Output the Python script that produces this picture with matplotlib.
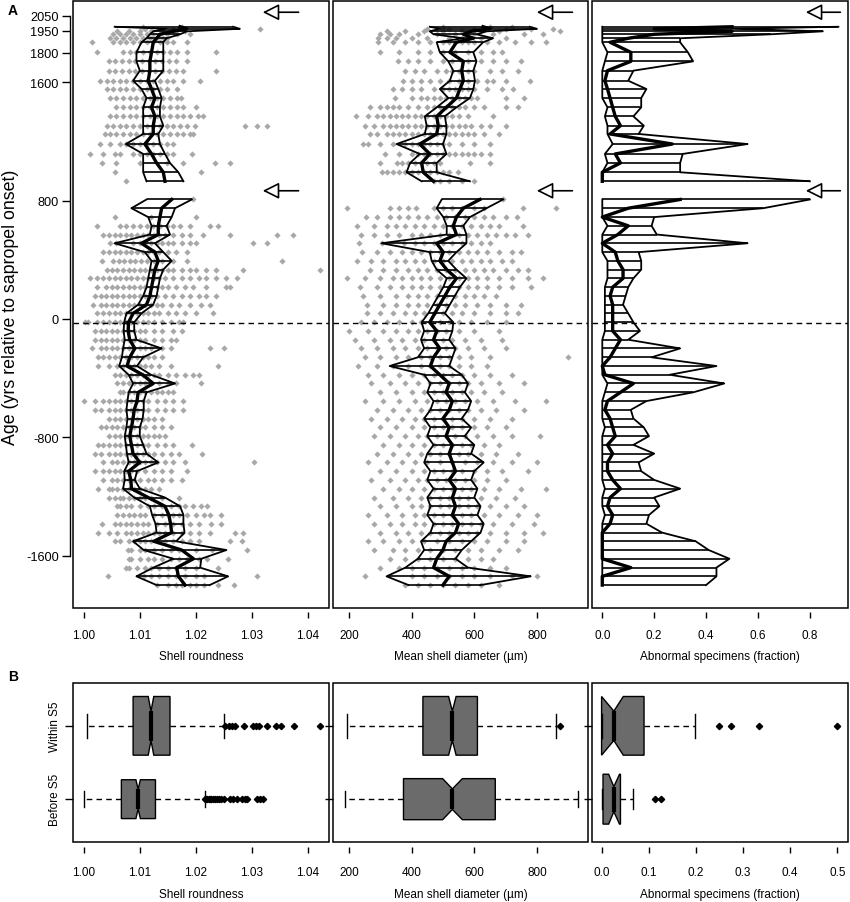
import numpy as np
import matplotlib.pyplot as plt
from matplotlib.patches import Rectangle

plt.rcParams['font.family'] = ['Liberation Sans', 'DejaVu Sans']
plt.rcParams['axes.unicode_minus'] = False

# sample ages (yrs relative to sapropel onset): section 1 below the gap, section 2 above it
age1 = [-1799, -1740, -1681, -1621, -1562, -1503, -1444, -1384, -1325, -1266,
        -1207, -1147, -1088, -1029, -970, -910, -851, -792, -733, -673,
        -614, -555, -496, -436, -377, -318, -259, -199, -140, -81,
        -22, 38, 97, 156, 215, 275, 334, 393, 452, 512,
        571, 630, 689, 749, 808]
age2 = [931, 992, 1055, 1116, 1183, 1251, 1307, 1370, 1431, 1494, 1555,
        1611, 1679, 1742, 1803, 1871, 1898, 1925, 1945, 1962, 1976]

onset_line = -30
arrow_ages = [2074, 867]

# shell roundness: lower band / median / upper band
rnd_lo1 = [1.0130, 1.0094, 1.0124, 1.0160, 1.0107, 1.0088, 1.0130, 1.0128, 1.0122, 1.0118,
           1.0090, 1.0070, 1.0073, 1.0072, 1.0080, 1.0077, 1.0075, 1.0073, 1.0076, 1.0078,
           1.0076, 1.0078, 1.0080, 1.0088, 1.0080, 1.0063, 1.0068, 1.0070, 1.0073, 1.0071,
           1.0072, 1.0076, 1.0097, 1.0106, 1.0112, 1.0115, 1.0118, 1.0121, 1.0109, 1.0055,
           1.0118, 1.0121, 1.0115, 1.0085, 1.0112]
rnd_md1 = [1.0181, 1.0169, 1.0166, 1.0196, 1.0175, 1.0125, 1.0157, 1.0155, 1.0152, 1.0145,
           1.0115, 1.0085, 1.0084, 1.0080, 1.0100, 1.0088, 1.0085, 1.0082, 1.0085, 1.0088,
           1.0090, 1.0095, 1.0097, 1.0124, 1.0105, 1.0077, 1.0082, 1.0091, 1.0082, 1.0079,
           1.0080, 1.0088, 1.0112, 1.0118, 1.0121, 1.0124, 1.0127, 1.0133, 1.0127, 1.0103,
           1.0133, 1.0133, 1.0136, 1.0139, 1.0157]
rnd_hi1 = [1.0225, 1.0258, 1.0208, 1.0210, 1.0255, 1.0165, 1.0180, 1.0178, 1.0178, 1.0172,
           1.0145, 1.0100, 1.0091, 1.0095, 1.0133, 1.0112, 1.0106, 1.0100, 1.0100, 1.0105,
           1.0107, 1.0107, 1.0112, 1.0163, 1.0120, 1.0095, 1.0106, 1.0139, 1.0094, 1.0090,
           1.0090, 1.0103, 1.0124, 1.0130, 1.0133, 1.0136, 1.0142, 1.0157, 1.0142, 1.0127,
           1.0154, 1.0148, 1.0157, 1.0163, 1.0193]
rnd_lo2 = [1.0112, 1.0106, 1.0106, 1.0106, 1.0075, 1.0106, 1.0106, 1.0106, 1.0106, 1.0112, 1.0103,
           1.0088, 1.0100, 1.0094, 1.0094, 1.0103, 1.0112, 1.0118, 1.0124, 1.0148, 1.0055]
rnd_md2 = [1.0145, 1.0142, 1.0130, 1.0121, 1.0109, 1.0124, 1.0124, 1.0127, 1.0121, 1.0127, 1.0121,
           1.0115, 1.0118, 1.0118, 1.0121, 1.0124, 1.0130, 1.0136, 1.0160, 1.0184, 1.0172]
rnd_hi2 = [1.0178, 1.0169, 1.0154, 1.0145, 1.0136, 1.0133, 1.0142, 1.0136, 1.0136, 1.0139, 1.0133,
           1.0127, 1.0142, 1.0142, 1.0142, 1.0142, 1.0148, 1.0172, 1.0184, 1.0279, 1.0267]

# individual shells, roundness minus 1 in units of 1e-4
rnd_pts1 = [
    [130, 150, 165, 175, 190, 200, 215, 240, 268],
    [43, 108, 120, 135, 150, 165, 180, 200, 215, 310],
    [75, 80, 95, 110, 120, 135, 150, 165, 180, 200, 240],
    [80, 85, 100, 115, 125, 140, 155, 170, 185, 205, 220, 258],
    [78, 85, 100, 110, 125, 140, 155, 170, 200, 230, 292],
    [55, 65, 80, 90, 100, 110, 120, 130, 145, 160, 175, 190, 205, 262, 282],
    [25, 45, 60, 75, 85, 95, 105, 115, 125, 135, 145, 160, 175, 190, 205, 225, 270, 285],
    [32, 55, 65, 75, 85, 95, 105, 115, 130, 145, 160, 175, 190, 205, 227, 245],
    [60, 70, 80, 90, 100, 110, 125, 140, 150, 160, 170, 185, 200, 215, 225, 245],
    [60, 65, 75, 85, 100, 115, 125, 140, 155, 170, 180, 195, 210, 220],
    [45, 55, 65, 70, 80, 90, 100, 110, 120, 140, 170],
    [25, 45, 50, 60, 70, 80, 90, 100, 110, 120, 135],
    [35, 50, 60, 70, 80, 90, 100, 115, 125, 140, 155, 175],
    [20, 35, 45, 55, 65, 75, 85, 95, 110, 125, 140, 155, 185],
    [35, 50, 60, 70, 80, 90, 100, 110, 120, 130, 145, 160, 180, 305],
    [20, 30, 45, 55, 65, 75, 85, 95, 105, 115, 125, 140, 155, 170, 212],
    [25, 35, 45, 55, 65, 75, 85, 95, 105, 115, 130, 145, 160, 193],
    [45, 55, 65, 75, 85, 95, 105, 115, 125, 135, 145],
    [30, 40, 50, 60, 70, 80, 90, 100, 110, 125, 140, 155],
    [45, 55, 65, 75, 85, 95, 105, 115, 125, 140],
    [20, 30, 45, 55, 65, 75, 85, 95, 105, 115, 130, 145, 160, 178],
    [0, 20, 35, 45, 55, 65, 75, 85, 95, 105, 115, 130, 145, 160, 178],
    [65, 70, 80, 90, 100, 110, 120, 130, 140, 150, 160],
    [60, 70, 80, 90, 100, 110, 120, 135, 150, 165, 210],
    [55, 65, 75, 85, 95, 105, 115, 125, 135, 150, 165, 180, 195, 206],
    [25, 45, 60, 70, 80, 90, 100, 110, 120, 135, 155, 240],
    [25, 35, 45, 55, 65, 75, 85, 95, 105, 115, 125, 140],
    [15, 30, 40, 50, 60, 70, 80, 90, 100, 110, 120, 140, 155, 225, 250],
    [20, 30, 40, 50, 60, 70, 80, 90, 100, 110, 125, 140, 155, 165],
    [20, 30, 40, 50, 60, 70, 80, 90, 100, 110, 125, 140, 160, 175],
    [2, 8, 23, 35, 45, 55, 65, 75, 85, 95, 105, 115, 125, 140, 155, 170, 178],
    [23, 35, 45, 55, 65, 75, 85, 95, 105, 115, 125, 135, 150, 165, 180, 200, 231],
    [17, 30, 40, 50, 60, 70, 80, 90, 100, 110, 120, 130, 140, 155, 170, 190, 210, 225],
    [20, 30, 40, 50, 60, 70, 80, 90, 100, 110, 120, 130, 145, 160, 175, 190, 205, 219, 237],
    [23, 40, 50, 60, 70, 80, 90, 100, 110, 120, 130, 140, 150, 165, 180, 195, 219, 255, 261],
    [11, 23, 35, 45, 55, 65, 75, 85, 95, 105, 115, 125, 135, 145, 160, 175, 190, 205, 219, 237, 255, 273],
    [41, 50, 60, 70, 80, 90, 100, 110, 120, 130, 140, 150, 160, 175, 190, 201, 219, 237, 285, 422],
    [32, 52, 62, 72, 82, 92, 102, 112, 125, 140, 160, 184, 354],
    [35, 45, 55, 65, 75, 85, 95, 105, 115, 125, 135, 150, 165, 184],
    [47, 58, 88, 100, 110, 120, 130, 140, 150, 160, 175, 190, 201, 303, 327],
    [35, 45, 55, 65, 75, 85, 95, 105, 115, 125, 135, 145, 160, 175, 190, 213, 261, 345, 374],
    [23, 64, 76, 88, 100, 112, 124, 136, 148, 160, 172, 190, 225, 240],
    [55, 120, 201],
    [],
    [196],
]
rnd_pts2 = [
    [76],
    [55, 210],
    [32, 58, 100, 148, 178, 234, 261],
    [11, 35, 55, 64, 88, 100, 112, 124, 136, 148, 160, 193],
    [29, 47, 64, 76, 88, 100, 112, 124, 136, 148, 160],
    [38, 47, 58, 70, 82, 94, 106, 118, 130, 142, 154, 166, 178, 189, 195],
    [41, 52, 64, 76, 88, 100, 112, 124, 136, 148, 160, 172, 184, 198, 288, 309, 327],
    [47, 58, 70, 82, 94, 106, 118, 130, 142, 154, 166, 178, 190, 204, 213],
    [58, 70, 82, 94, 106, 118, 130, 142, 154, 166, 178, 201],
    [47, 58, 70, 82, 94, 106, 118, 130, 142, 154, 166, 174],
    [41, 52, 64, 76, 88, 100, 112, 124, 136, 148, 166],
    [29, 41, 52, 64, 76, 88, 100, 112, 124, 136, 148, 160, 178, 207],
    [44, 56, 68, 80, 92, 104, 116, 128, 140, 152, 164, 178, 237],
    [44, 56, 68, 80, 92, 104, 116, 128, 140, 152, 164, 184],
    [23, 70, 82, 94, 106, 118, 130, 142, 154, 166, 184, 237],
    [14, 52, 64, 76, 88, 100, 112, 124, 136, 148, 160, 184],
    [47, 58, 70, 82, 94, 106, 118, 130, 142, 148],
    [52, 64, 76, 88, 100, 112, 124, 136, 148, 166, 190],
    [60, 80, 100, 120, 140, 160, 180],
    [110, 160, 315],
    [105, 175],
]

# mean shell diameter (um): lower band / median / upper band
dia_lo1 = [390, 320, 380, 420, 440, 430, 460, 470, 450, 460,
           450, 470, 450, 460, 440, 450, 470, 450, 460, 440,
           460, 470, 450, 460, 440, 330, 420, 440, 430, 440,
           432, 453, 469, 485, 501, 512, 480, 464, 458, 304,
           512, 512, 501, 480, 496]
dia_md1 = [500, 520, 470, 480, 500, 510, 540, 550, 530, 540,
           530, 540, 520, 540, 530, 520, 530, 510, 520, 500,
           520, 530, 510, 520, 490, 460, 470, 490, 470, 480,
           458, 474, 490, 506, 522, 543, 512, 490, 501, 480,
           543, 533, 543, 565, 618]
dia_hi1 = [620, 780, 580, 540, 560, 590, 620, 630, 610, 620,
           600, 610, 590, 600, 630, 590, 600, 570, 590, 560,
           580, 590, 570, 580, 560, 520, 530, 540, 520, 530,
           533, 506, 522, 538, 554, 575, 543, 517, 543, 575,
           575, 565, 586, 639, 692]
dia_lo2 = [432, 384, 395, 426, 352, 442, 448, 442, 480, 517, 490,
           522, 533, 517, 490, 480, 565, 470, 458, 490, 458]
dia_md2 = [470, 437, 432, 458, 426, 480, 485, 480, 511, 543, 554,
           565, 560, 565, 522, 543, 597, 565, 590, 650, 628]
dia_hi2 = [586, 480, 480, 511, 500, 511, 511, 506, 543, 586, 597,
           602, 597, 607, 597, 628, 660, 607, 640, 800, 777]

# individual shells, diameter (um)
dia_pts1 = [
    [380, 420, 460, 500, 540, 580, 620, 680],
    [250, 400, 440, 480, 520, 560, 600, 650, 720, 800],
    [300, 360, 400, 440, 480, 520, 560, 600, 650, 700],
    [330, 380, 420, 460, 500, 540, 580, 620, 660],
    [280, 340, 380, 420, 460, 500, 540, 580, 620, 680, 740],
    [260, 310, 360, 400, 440, 480, 520, 560, 600, 640, 700, 760],
    [300, 350, 390, 430, 460, 490, 520, 550, 580, 610, 650, 700, 760, 820],
    [280, 330, 370, 410, 440, 470, 500, 530, 560, 590, 620, 660, 720, 790],
    [260, 320, 370, 410, 440, 470, 500, 530, 560, 590, 630, 680, 740, 800],
    [300, 350, 400, 430, 460, 490, 520, 550, 580, 610, 650, 700, 760],
    [280, 340, 390, 430, 460, 490, 520, 550, 580, 620, 670, 730],
    [310, 360, 400, 440, 470, 500, 530, 560, 590, 630, 680, 750, 830],
    [270, 330, 380, 420, 450, 480, 510, 540, 570, 600, 640, 700],
    [300, 350, 400, 440, 470, 500, 530, 560, 600, 640, 690, 770],
    [260, 320, 370, 410, 450, 490, 530, 570, 610, 660, 720, 800],
    [290, 340, 390, 430, 460, 490, 520, 550, 580, 620, 670, 740],
    [310, 360, 400, 440, 470, 500, 530, 560, 590, 630, 680],
    [280, 330, 380, 420, 450, 480, 510, 540, 570, 610, 660, 720, 810],
    [300, 350, 400, 440, 470, 500, 530, 560, 600, 640, 700],
    [270, 320, 370, 410, 440, 470, 500, 530, 560, 600, 650, 720],
    [290, 340, 390, 430, 460, 490, 520, 550, 580, 620, 670, 760],
    [250, 310, 360, 410, 450, 480, 510, 540, 570, 610, 660, 730, 830],
    [300, 350, 400, 440, 470, 500, 530, 560, 590, 630, 690],
    [270, 330, 380, 420, 460, 490, 520, 550, 580, 620, 680, 760],
    [260, 310, 360, 400, 440, 470, 500, 530, 560, 600, 650, 720],
    [230, 290, 340, 390, 430, 460, 490, 520, 550, 590, 640],
    [250, 300, 350, 390, 430, 460, 490, 520, 550, 590, 650, 900],
    [240, 290, 340, 380, 420, 450, 480, 510, 540, 580, 630, 700],
    [220, 280, 330, 370, 410, 440, 470, 500, 530, 570, 620, 690],
    [200, 260, 310, 350, 390, 420, 450, 480, 510, 550, 600, 680],
    [240, 280, 320, 360, 400, 430, 460, 490, 520, 550, 590, 640, 700],
    [257, 300, 340, 380, 410, 440, 470, 500, 530, 560, 600, 650, 700, 740],
    [257, 310, 350, 390, 420, 450, 480, 510, 540, 570, 610, 650, 700, 750],
    [246, 300, 350, 390, 420, 450, 480, 510, 540, 570, 600, 630, 670],
    [236, 290, 330, 370, 400, 430, 460, 490, 520, 550, 580, 610, 640, 680, 720, 780],
    [193, 250, 300, 340, 370, 400, 430, 460, 490, 520, 550, 580, 610, 640, 680, 720, 770, 820],
    [268, 310, 350, 390, 420, 450, 480, 510, 540, 570, 600, 630, 660, 700, 740, 770],
    [226, 270, 310, 350, 380, 410, 440, 470, 500, 530, 560, 590, 620, 650, 690, 720],
    [242, 290, 330, 370, 400, 430, 460, 490, 520, 550, 580, 610, 640, 680, 720, 750],
    [231, 306, 375, 410, 440, 470, 500, 530, 560, 590, 620, 651],
    [237, 280, 320, 360, 400, 430, 460, 490, 520, 550, 580, 610, 640, 670, 700, 730, 770],
    [226, 280, 320, 350, 380, 410, 440, 470, 500, 530, 560, 590, 620, 650, 680, 757],
    [253, 290, 330, 360, 390, 420, 450, 480, 510, 540, 570, 600, 630, 660, 700, 735],
    [193, 330, 360, 390, 415, 470, 500, 530, 560, 600, 630, 756, 862],
    [692],
]
dia_pts2 = [
    [470, 490, 520, 560, 600],
    [304, 320, 340, 360, 380, 400, 420, 440, 460, 480, 500, 520, 549],
    [299, 352, 370, 390, 410, 430, 450, 470, 490, 586, 650],
    [315, 360, 400, 420, 440, 460, 480, 500, 520, 540, 560, 580, 600, 620, 650],
    [246, 260, 300, 340, 380, 400, 420, 440, 460, 480, 500, 520, 560, 600, 650],
    [267, 290, 320, 340, 360, 380, 400, 420, 440, 460, 480, 500, 520, 540, 560, 580, 600, 630, 680],
    [251, 280, 310, 330, 350, 370, 390, 410, 430, 450, 470, 490, 510, 530, 550, 570, 590, 620, 650, 700],
    [224, 260, 290, 310, 330, 350, 370, 390, 410, 430, 450, 470, 490, 510, 530, 550, 580, 660],
    [267, 300, 320, 340, 360, 390, 420, 450, 470, 490, 510, 530, 550, 570, 600, 630, 700, 740],
    [347, 400, 430, 450, 470, 490, 510, 530, 550, 570, 590, 610, 700, 760],
    [342, 370, 400, 430, 470, 500, 520, 540, 560, 580, 600, 640, 690, 723],
    [373, 400, 430, 460, 490, 520, 550, 580, 610, 640, 660, 700, 777],
    [378, 410, 440, 480, 510, 530, 550, 580, 600, 650, 690, 740],
    [357, 390, 420, 460, 500, 530, 560, 580, 620, 660, 700, 750],
    [299, 360, 420, 460, 500, 540, 580, 620, 660, 690],
    [293, 340, 380, 420, 460, 500, 520, 540, 560, 580, 600, 640, 680, 730, 780, 830],
    [293, 320, 350, 400, 450, 520, 560, 620, 700],
    [300, 330, 360, 420, 480, 540, 600, 660, 760, 820],
    [320, 380, 440, 500, 560, 620, 680, 873],
    [450, 520, 600, 700, 780, 850],
    [500, 650, 720],
]

# abnormal specimens (fraction): lower band / observed / upper band
abn_lo1 = [0, 0, 0, 0, 0, 0, 0, 0, 0.01, 0,
           0, 0.01, 0, 0, 0, 0, 0, 0, 0.01, 0,
           0, 0, 0.01, 0.02, 0, 0, 0, 0, 0, 0.01,
           0.01, 0.01, 0.01, 0.01, 0.01, 0.02, 0.02, 0.02, 0, 0,
           0, 0.02, 0, 0, 0]
abn_md1 = [0, 0, 0.11, 0, 0, 0, 0, 0.03, 0.04, 0.02,
           0.03, 0.07, 0.04, 0.02, 0.02, 0.04, 0.02, 0.05, 0.04, 0.03,
           0.01, 0.02, 0.07, 0.12, 0.01, 0, 0.03, 0.05, 0.07, 0.04,
           0.04, 0.04, 0.04, 0.03, 0.04, 0.08, 0.08, 0.06, 0.05, 0,
           0.06, 0.10, 0, 0.10, 0.30]
abn_hi1 = [0.40, 0.44, 0.44, 0.49, 0.41, 0.36, 0.23, 0.17, 0.18, 0.22,
           0.20, 0.30, 0.20, 0.15, 0.14, 0.20, 0.12, 0.18, 0.16, 0.12,
           0.11, 0.17, 0.35, 0.47, 0.26, 0.44, 0.19, 0.30, 0.10, 0.145,
           0.12, 0.10, 0.08, 0.09, 0.10, 0.12, 0.15, 0.15, 0.14, 0.56,
           0.21, 0.19, 0.20, 0.62, 0.80]
abn_lo2 = [0, 0, 0.02, 0.01, 0.04, 0.02, 0.02, 0.01, 0.02, 0, 0,
           0, 0, 0.01, 0.02, 0, 0, 0, 0, 0, 0]
abn_md2 = [0, 0, 0.07, 0.05, 0.27, 0.03, 0.07, 0.05, 0.04, 0.03, 0.02,
           0.01, 0.02, 0.11, 0.11, 0.03, 0.10, 0.20, 0.50, 0.20, 0.50]
abn_hi2 = [0.80, 0.30, 0.30, 0.31, 0.56, 0.14, 0.16, 0.12, 0.15, 0.15, 0.17,
           0.10, 0.12, 0.35, 0.33, 0.30, 0.30, 0.65, 0.85, 0.50, 0.91]

# panel B: summary statistics before / within sapropel S5
groups = ['Before S5', 'Within S5']
rnd_box = [
    dict(whislo=1.0000, q1=1.0067, med=1.0097, q3=1.0128, whishi=1.0216, cilo=1.0093, cihi=1.0101,
         fliers=[1.0217, 1.0219, 1.0221, 1.0223, 1.0225, 1.0228, 1.0231, 1.0234, 1.0238, 1.0242,
                 1.0246, 1.0250, 1.0262, 1.0266, 1.0273, 1.0282, 1.0288, 1.0292, 1.0309, 1.0315, 1.0321]),
    dict(whislo=1.0005, q1=1.0088, med=1.0120, q3=1.0154, whishi=1.0250, cilo=1.0115, cihi=1.0125,
         fliers=[1.0253, 1.0259, 1.0265, 1.0271, 1.0286, 1.0302, 1.0308, 1.0314, 1.0327, 1.0344,
                 1.0352, 1.0375, 1.0423]),
]
dia_box = [
    dict(whislo=186, q1=374, med=530, q3=667, whishi=931, cilo=499, cihi=562, fliers=[]),
    dict(whislo=195, q1=436, med=530, q3=610, whishi=862, cilo=518, cihi=542, fliers=[875]),
]
abn_box = [
    dict(whislo=0.0, q1=0.003, med=0.026, q3=0.040, whishi=0.067, cilo=0.015, cihi=0.038,
         fliers=[0.113, 0.126]),
    dict(whislo=0.0, q1=0.0, med=0.026, q3=0.090, whishi=0.199, cilo=0.0, cihi=0.046,
         fliers=[0.25, 0.274, 0.333, 0.5]),
]
box_widths = [[0.53, 0.8], [0.56, 0.8], [0.68, 0.8]]

W, H = 850, 903
fig = plt.figure(figsize=(W / 100, H / 100), dpi=100)


def px_axes(x0, x1, y0, y1):
    return fig.add_axes([x0 / W, 1 - y1 / H, (x1 - x0) / W, (y1 - y0) / H])


def framed(ax, bottom_off, left_off):
    for s in ax.spines.values():
        s.set_visible(False)
    ax.spines['bottom'].set_position(('outward', bottom_off))
    ax.spines['left'].set_position(('outward', left_off))
    ax.add_patch(Rectangle((0, 0), 1, 1, transform=ax.transAxes, fill=False,
                           ec='black', lw=1.1, clip_on=False, zorder=6))


def flat(ages, rows):
    xs, ys = [], []
    for a, row in zip(ages, rows):
        xs += list(row)
        ys += [a] * len(row)
    return np.array(xs, float), np.array(ys, float)


def band(ax, ages, lo, md, hi):
    ax.hlines(ages, lo, hi, color='black', lw=1.2, zorder=3)
    ax.plot(lo, ages, color='black', lw=1.3, zorder=3)
    ax.plot(hi, ages, color='black', lw=1.3, zorder=3)
    ax.plot(md, ages, color='black', lw=2.4, zorder=4)


xcols = [(73.3, 329.3), (333.3, 587.7), (592.3, 848.0)]
xlims_a = [(0.9981, 1.0439), (150, 962), (-0.0385, 0.947)]
xticks_a = [[1.00, 1.01, 1.02, 1.03, 1.04], [200, 400, 600, 800], [0.0, 0.2, 0.4, 0.6, 0.8]]
xtlab_a = [['1.00', '1.01', '1.02', '1.03', '1.04'], ['200', '400', '600', '800'],
           ['0.0', '0.2', '0.4', '0.6', '0.8']]
xlabels = ['Shell roundness', 'Mean shell diameter (\u00b5m)', 'Abnormal specimens (fraction)']
arrow_x = [(0.74, 0.88), (0.80, 0.94), (0.835, 0.97)]

yticks = [-1600, -800, 0, 800, 1600, 1800, 1950, 2050]

series = [
    (rnd_lo1, rnd_md1, rnd_hi1, rnd_lo2, rnd_md2, rnd_hi2),
    (dia_lo1, dia_md1, dia_hi1, dia_lo2, dia_md2, dia_hi2),
    (abn_lo1, abn_md1, abn_hi1, abn_lo2, abn_md2, abn_hi2),
]

for i in range(3):
    ax = px_axes(xcols[i][0], xcols[i][1], 2, 609.3)
    framed(ax, 2.4, 2.4)
    ax.set_xlim(*xlims_a[i])
    ax.set_ylim(-1956, 2150)

    if i == 0:
        for ages, rows in [(age1, rnd_pts1), (age2, rnd_pts2)]:
            x, y = flat(ages, rows)
            ax.scatter(1 + x / 1e4, y, marker='D', s=10, color='#a8a8a8', lw=0, zorder=2)
    elif i == 1:
        for ages, rows in [(age1, dia_pts1), (age2, dia_pts2)]:
            x, y = flat(ages, rows)
            ax.scatter(x, y, marker='D', s=10, color='#a8a8a8', lw=0, zorder=2)

    lo1, md1, hi1, lo2, md2, hi2 = series[i]
    band(ax, age1, lo1, md1, hi1)
    band(ax, age2, lo2, md2, hi2)
    ax.axhline(onset_line, color='black', lw=1.0, ls=(0, (4, 3)), zorder=5)

    for a in arrow_ages:
        ax.annotate('', xy=(arrow_x[i][0], a), xycoords=('axes fraction', 'data'),
                    xytext=(arrow_x[i][1], a), textcoords=('axes fraction', 'data'),
                    arrowprops=dict(arrowstyle='-|>,head_length=1.0,head_width=0.5',
                                    fc='white', ec='black', lw=1.2, shrinkA=0, shrinkB=0))

    ax.set_xticks(xticks_a[i])
    ax.set_xticklabels(xtlab_a[i])
    ax.tick_params(axis='x', direction='out', length=4.5, width=1, labelsize=8.5, pad=8)
    if i == 0:
        ax.set_yticks(yticks)
        ax.set_yticklabels([str(t) for t in yticks])
        ax.spines['left'].set_visible(True)
        ax.spines['left'].set_bounds(-1600, 2050)
        ax.spines['left'].set_linewidth(1.0)
        ax.tick_params(axis='y', direction='out', length=6, width=1, labelsize=9.2, pad=2)
    else:
        ax.tick_params(axis='y', left=False, labelleft=False)
    ax.text(0.5, -0.078, xlabels[i], transform=ax.transAxes, ha='center', va='center', fontsize=8.5)

# panel B
xlims_b = [(0.9981, 1.0439), (150, 962), (-0.0197, 0.5225)]
xticks_b = [[1.00, 1.01, 1.02, 1.03, 1.04], [200, 400, 600, 800], [0.0, 0.1, 0.2, 0.3, 0.4, 0.5]]
xtlab_b = [['1.00', '1.01', '1.02', '1.03', '1.04'], ['200', '400', '600', '800'],
           ['0.0', '0.1', '0.2', '0.3', '0.4', '0.5']]
box_sets = [rnd_box, dia_box, abn_box]

for i in range(3):
    ax = px_axes(xcols[i][0], xcols[i][1], 684.3, 842.7)
    framed(ax, 4, 0)
    stats = box_sets[i]
    wds = box_widths[i]
    ax.bxp(stats, positions=[1, 2], widths=wds, orientation='horizontal', patch_artist=True,
           shownotches=True, manage_ticks=False, capwidths=[w * 0.4 for w in wds],
           boxprops=dict(facecolor='#6b6b6b', edgecolor='black', lw=1.0),
           medianprops=dict(color='black', lw=3.0),
           whiskerprops=dict(color='black', lw=1.0, ls=(0, (4, 3))),
           capprops=dict(color='black', lw=1.0),
           flierprops=dict(marker='D', markerfacecolor='black', markeredgecolor='black',
                           markersize=3.2, lw=0))
    ax.set_xlim(*xlims_b[i])
    ax.set_ylim(0.42, 2.58)
    ax.set_xticks(xticks_b[i])
    ax.set_xticklabels(xtlab_b[i])
    ax.tick_params(axis='x', direction='out', length=4.5, width=1, labelsize=8.5, pad=9)
    ax.set_yticks([1, 2])
    if i == 0:
        ax.set_yticklabels(groups, rotation=90, va='center')
    else:
        ax.set_yticklabels(['', ''])
    ax.tick_params(axis='y', direction='out', length=6, width=1, labelsize=8.5, pad=3)
    ax.text(0.5, -0.332, xlabels[i], transform=ax.transAxes, ha='center', va='center', fontsize=8.5)

fig.text(8 / W, 1 - 11 / H, 'A', fontsize=10, fontweight='bold', ha='left', va='center')
fig.text(8 / W, 1 - 677 / H, 'B', fontsize=10, fontweight='bold', ha='left', va='center')
fig.text(11 / W, 1 - 307 / H, 'Age (yrs relative to sapropel onset)', rotation=90,
         ha='center', va='center', fontsize=12.8)

fig.savefig('out.png', dpi=100)
